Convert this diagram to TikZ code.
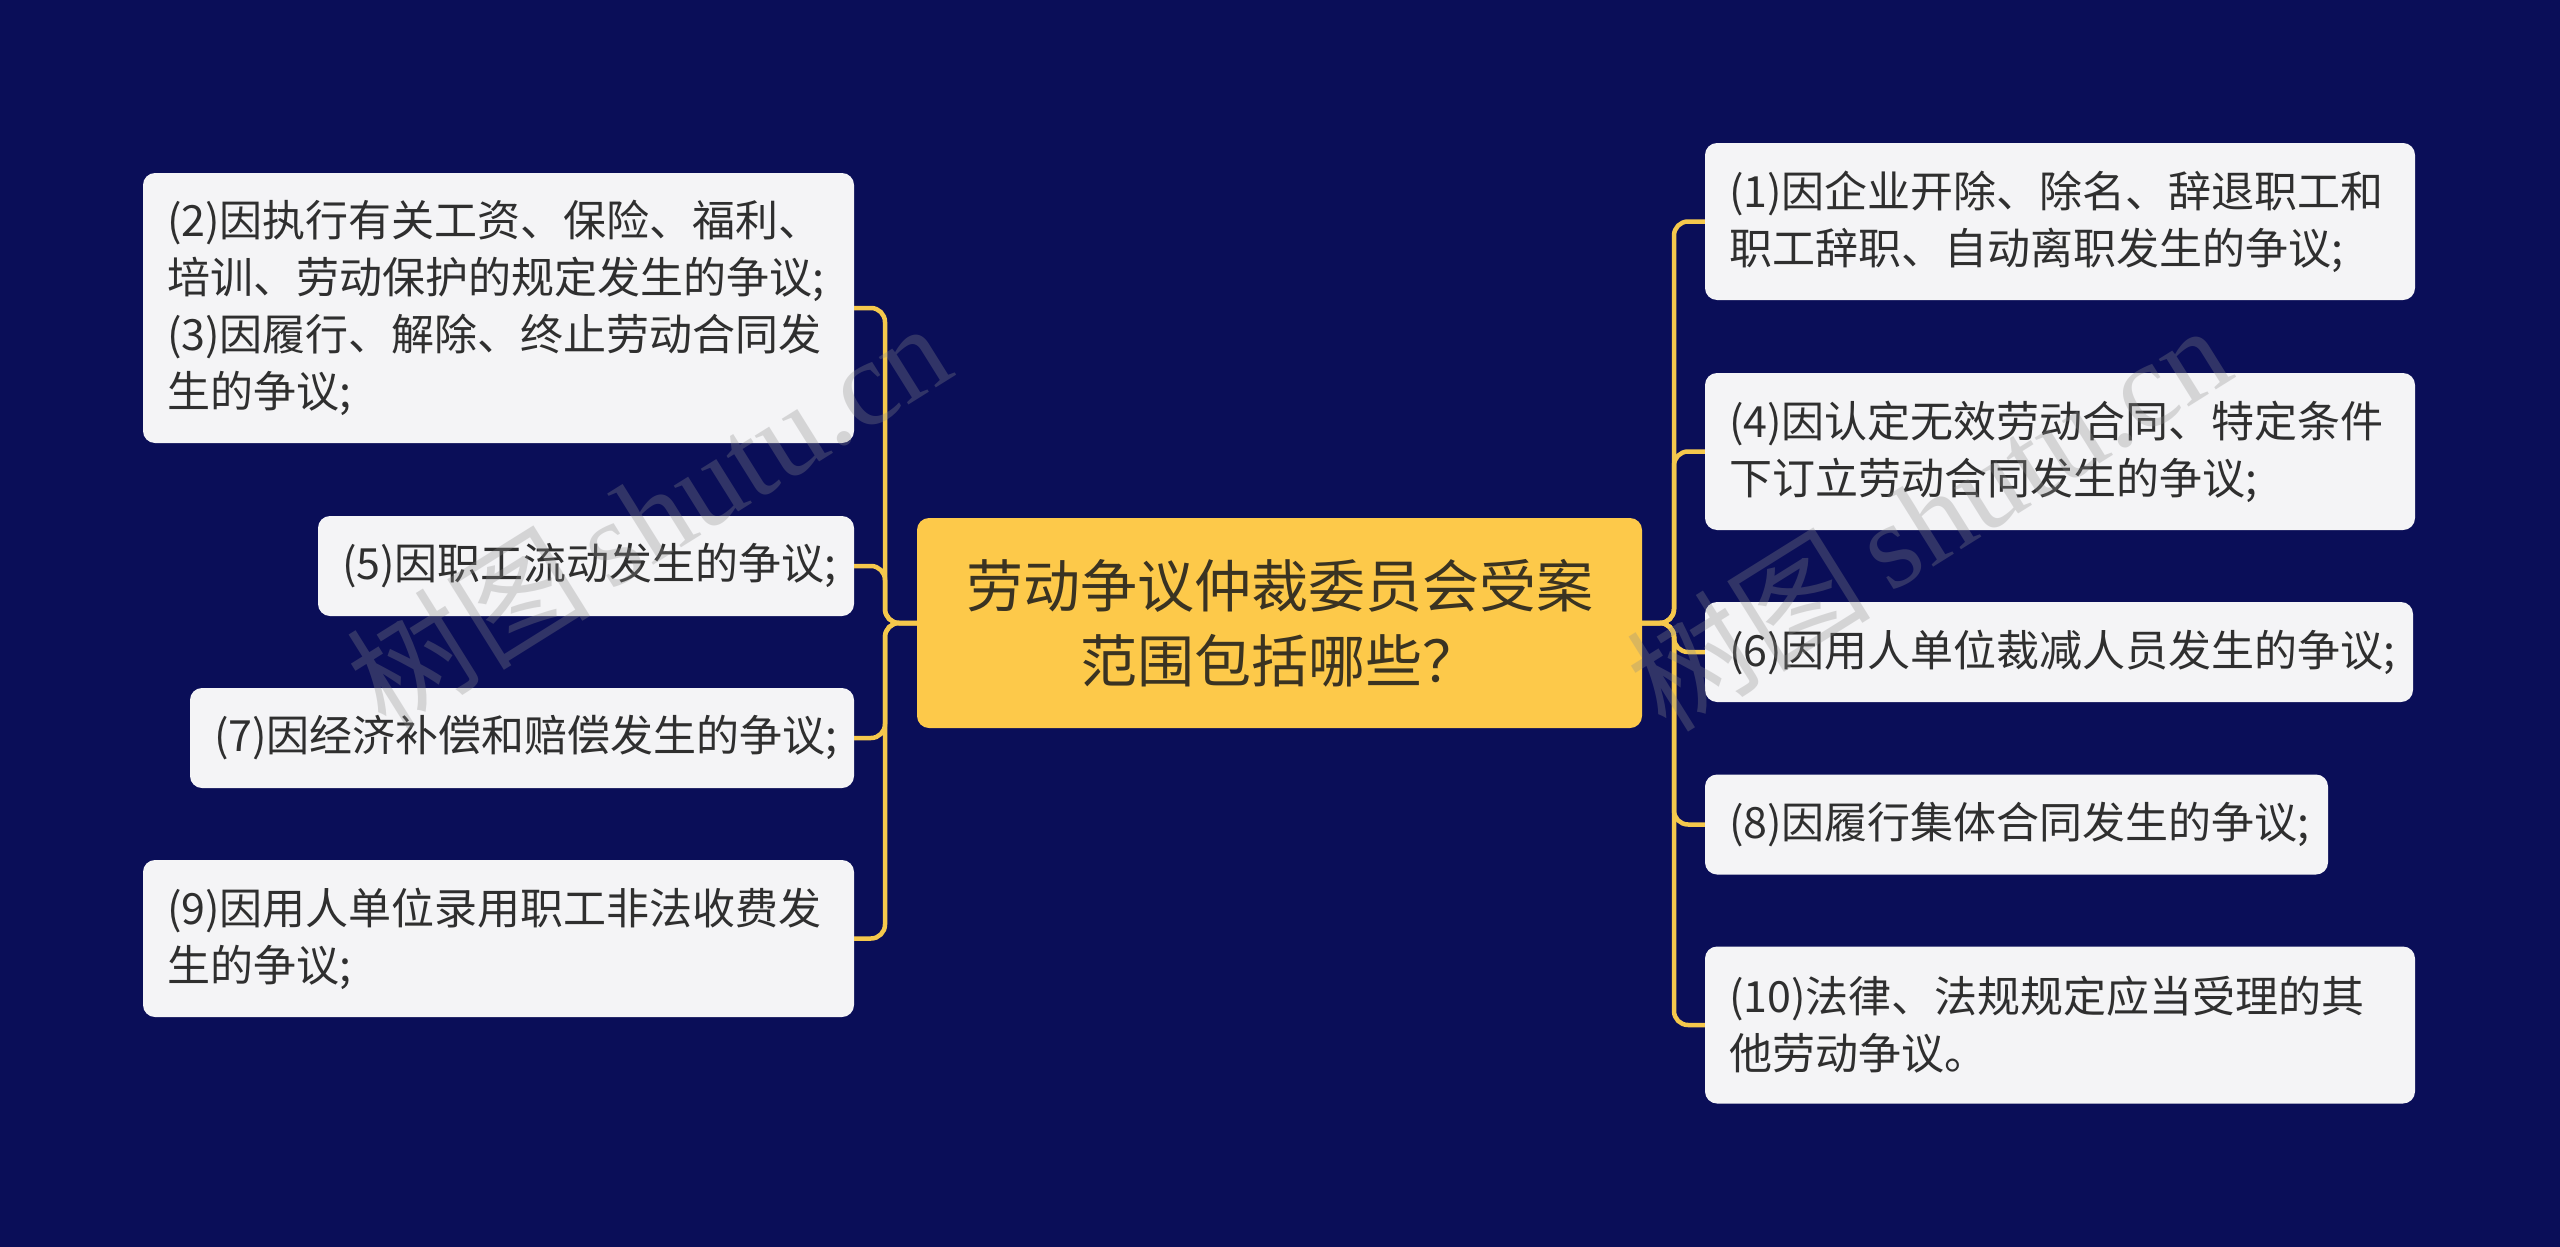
\documentclass[tikz,border=0pt]{standalone}
\usepackage{fontspec}
\setmainfont{Noto Sans CJK SC}
\newfontfamily\wmcjk{Noto Sans CJK SC}
\newfontfamily\wmlat{Liberation Serif}
\definecolor{bgcol}{RGB}{10,14,88}
\definecolor{rootfill}{RGB}{253,201,74}
\definecolor{roottext}{RGB}{58,51,34}
\definecolor{leaffill}{RGB}{244,244,246}
\definecolor{leaftext}{RGB}{47,47,47}
\definecolor{linecol}{RGB}{245,200,76}
\definecolor{wmcol}{RGB}{140,140,140}
\tikzset{
  leaf/.style={fill=leaffill, rounded corners=12pt, text=leaftext,
    font=\fontsize{43}{57}\selectfont, align=left, inner xsep=24pt, inner ysep=0pt, anchor=center},
  root/.style={fill=rootfill, rounded corners=12pt, text=roottext,
    font=\fontsize{57}{75}\selectfont, align=center, inner sep=0pt, anchor=center},
  conn/.style={draw=linecol, line width=4.5pt, rounded corners=14pt},
  wm/.style={text=wmcol, opacity=0.3, rotate=32, inner sep=0pt}
}
\begin{document}
\begin{tikzpicture}[x=1pt,y=-1pt]
\useasboundingbox (0,0) rectangle (2560,1247);
\fill[bgcol] (0,0) rectangle (2560,1247);

% root
\node[root, minimum width=725pt, minimum height=210pt] (C) at (1279.5,623)
  {劳动争议仲裁委员会受案\\范围包括哪些？};

% left leaves
\node[leaf, text width=663pt, minimum height=270pt] (L1) at (498.5,308)
  {(2)因执行有关工资、保险、福利、\\培训、劳动保护的规定发生的争议;\\(3)因履行、解除、终止劳动合同发\\生的争议;};
\node[leaf, text width=488pt, minimum height=100pt] (L2) at (586,566)
  {(5)因职工流动发生的争议;};
\node[leaf, text width=616pt, minimum height=100pt] (L3) at (522,738)
  {(7)因经济补偿和赔偿发生的争议;};
\node[leaf, text width=663pt, minimum height=157pt] (L4) at (498.5,938.5)
  {(9)因用人单位录用职工非法收费发\\生的争议;};

% right leaves
\node[leaf, text width=662pt, minimum height=157pt] (R1) at (2060,221.5)
  {(1)因企业开除、除名、辞退职工和\\职工辞职、自动离职发生的争议;};
\node[leaf, text width=662pt, minimum height=157pt] (R2) at (2060,451.5)
  {(4)因认定无效劳动合同、特定条件\\下订立劳动合同发生的争议;};
\node[leaf, text width=660pt, minimum height=100pt] (R3) at (2059,652)
  {(6)因用人单位裁减人员发生的争议;};
\node[leaf, text width=575pt, minimum height=100pt] (R4) at (2016.5,824.5)
  {(8)因履行集体合同发生的争议;};
\node[leaf, text width=662pt, minimum height=157pt] (R5) at (2060,1025)
  {(10)法律、法规规定应当受理的其\\他劳动争议。};

% trunks
\coordinate (LT) at (885,623);
\coordinate (RT) at (1674,623);

\foreach \n in {L1,L2,L3,L4}
  \draw[conn] (C.west) -- (LT) |- (\n.east);
\foreach \n in {R1,R2,R3,R4,R5}
  \draw[conn] (C.east) -- (RT) |- (\n.west);

% watermarks
\node[wm] (W1) at (648,514) {\fontsize{122}{122}\selectfont\wmcjk 树图\,\wmlat shutu.cn};
\node[wm] (W2) at (1928,516) {\fontsize{122}{122}\selectfont\wmcjk 树图\,\wmlat shutu.cn};
\end{tikzpicture}
\end{document}
